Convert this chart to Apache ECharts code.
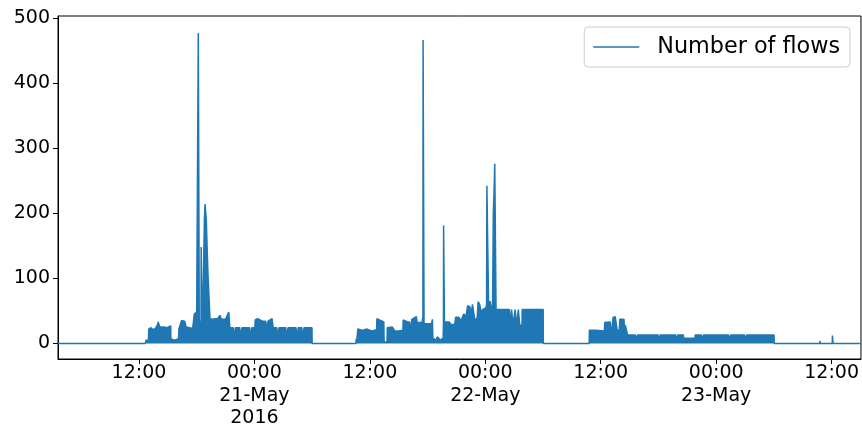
<!DOCTYPE html>
<html>
<head>
<meta charset="utf-8">
<script src="https://cdn.jsdelivr.net/npm/echarts@6/dist/echarts.min.js"></script>
<style>html,body{margin:0;padding:0;background:#fff}#c{width:862px;height:430px}</style>
</head>
<body>
<div id="c"></div>
<script>
var seriesName = 'Number of flows';
// [time, number of flows], per period
var quietStart = [
["2016-05-20 03:35",0],["2016-05-20 03:44",0],["2016-05-20 03:45",2],["2016-05-20 03:46",0],
["2016-05-20 04:26",0],["2016-05-20 04:27",2],["2016-05-20 04:28",0],
["2016-05-20 05:08",0],["2016-05-20 05:09",2],["2016-05-20 05:10",0],
["2016-05-20 05:59",0],["2016-05-20 06:00",2],["2016-05-20 06:01",0],["2016-05-20 12:40",0]
];
var activityDay1 = [
["2016-05-20 12:44",5],["2016-05-20 12:59",5],["2016-05-20 13:01",22],["2016-05-20 13:15",24],["2016-05-20 13:30",21],
["2016-05-20 13:45",24],["2016-05-20 13:55",28],["2016-05-20 14:00",33],["2016-05-20 14:06",33],["2016-05-20 14:10",25],
["2016-05-20 14:40",25],["2016-05-20 14:55",24],["2016-05-20 15:05",27],["2016-05-20 15:18",27],["2016-05-20 15:19",7],
["2016-05-20 15:40",5],["2016-05-20 16:07",7],["2016-05-20 16:09",22],["2016-05-20 16:25",35],["2016-05-20 16:45",34],
["2016-05-20 16:55",25],["2016-05-20 17:15",24],["2016-05-20 17:35",23],["2016-05-20 17:45",45],["2016-05-20 18:00",48],
["2016-05-20 18:08",45],["2016-05-20 18:10",477],["2016-05-20 18:14",477],["2016-05-20 18:16",35],["2016-05-20 18:27",30],
["2016-05-20 18:28",148],["2016-05-20 18:34",148],["2016-05-20 18:36",8],["2016-05-20 18:46",8],["2016-05-20 18:48",190],
["2016-05-20 18:52",214],["2016-05-20 18:58",214],["2016-05-20 19:00",190],["2016-05-20 19:03",163],["2016-05-20 19:08",160],
["2016-05-20 19:10",108],["2016-05-20 19:20",108],["2016-05-20 19:23",38],["2016-05-20 19:40",37],["2016-05-20 19:55",38],
["2016-05-20 20:10",38],["2016-05-20 20:25",43],["2016-05-20 20:35",37],["2016-05-20 21:00",37],["2016-05-20 21:20",48],
["2016-05-20 21:25",48],["2016-05-20 21:27",24],
["2016-05-20 21:48",24],["2016-05-20 21:49",8],["2016-05-20 22:01",8],["2016-05-20 22:02",24],
["2016-05-20 22:28",24],["2016-05-20 22:29",8],["2016-05-20 22:41",8],["2016-05-20 22:42",24],
["2016-05-20 23:30",24],["2016-05-20 23:31",8],["2016-05-20 23:43",8],["2016-05-20 23:44",24],
["2016-05-21 00:03",24],["2016-05-21 00:05",36],["2016-05-21 00:20",38],["2016-05-21 00:35",36],["2016-05-21 00:50",34],
["2016-05-21 01:10",34],["2016-05-21 01:15",24],["2016-05-21 01:25",34],["2016-05-21 01:50",38],["2016-05-21 01:57",24],
["2016-05-21 02:20",24],["2016-05-21 02:21",8],["2016-05-21 02:33",8],["2016-05-21 02:34",24],
["2016-05-21 03:16",24],["2016-05-21 03:17",8],["2016-05-21 03:29",8],["2016-05-21 03:30",24],
["2016-05-21 04:20",24],["2016-05-21 04:21",8],["2016-05-21 04:33",8],["2016-05-21 04:34",24],
["2016-05-21 04:56",24],["2016-05-21 04:57",8],["2016-05-21 05:09",8],["2016-05-21 05:10",24],
["2016-05-21 05:59",24],["2016-05-21 06:00",0]
];
var activityDay2 = [
["2016-05-21 10:33",0],["2016-05-21 10:35",7],["2016-05-21 10:37",0],["2016-05-21 10:44",0],["2016-05-21 10:45",22],
["2016-05-21 11:15",20],["2016-05-21 11:40",22],["2016-05-21 12:10",19],["2016-05-21 12:42",21],["2016-05-21 12:44",38],
["2016-05-21 13:00",36],["2016-05-21 13:10",33],["2016-05-21 13:27",33],["2016-05-21 13:29",2],["2016-05-21 13:47",2],
["2016-05-21 13:49",24],["2016-05-21 14:20",25],["2016-05-21 14:35",19],["2016-05-21 15:00",19],["2016-05-21 15:26",20],
["2016-05-21 15:28",36],["2016-05-21 15:55",33],["2016-05-21 16:08",33],["2016-05-21 16:10",12],["2016-05-21 16:20",12],
["2016-05-21 16:22",37],["2016-05-21 16:50",41],["2016-05-21 16:55",32],["2016-05-21 17:25",32],["2016-05-21 17:31",40],
["2016-05-21 17:32",466],["2016-05-21 17:36",466],["2016-05-21 17:38",30],["2016-05-21 18:00",30],["2016-05-21 18:25",30],
["2016-05-21 18:30",37],["2016-05-21 18:33",8],["2016-05-21 18:55",5],["2016-05-21 19:00",10],["2016-05-21 19:20",5],
["2016-05-21 19:37",8],["2016-05-21 19:39",33],["2016-05-21 19:40",181],["2016-05-21 19:43",181],["2016-05-21 19:45",33],
["2016-05-21 20:15",33],["2016-05-21 20:30",28],["2016-05-21 20:50",30],["2016-05-21 20:55",40],["2016-05-21 21:15",40],
["2016-05-21 21:30",35],["2016-05-21 21:45",45],["2016-05-21 22:00",42],["2016-05-21 22:10",58],["2016-05-21 22:25",56],
["2016-05-21 22:30",40],["2016-05-21 22:40",60],["2016-05-21 22:50",58],["2016-05-21 22:55",35],["2016-05-21 23:10",40],
["2016-05-21 23:15",64],["2016-05-21 23:25",60],["2016-05-21 23:35",48],["2016-05-21 23:45",52],["2016-05-22 00:05",55],
["2016-05-22 00:08",60],["2016-05-22 00:10",242],["2016-05-22 00:18",240],["2016-05-22 00:21",50],["2016-05-22 00:30",65],
["2016-05-22 00:35",58],["2016-05-22 00:45",45],["2016-05-22 00:48",45],["2016-05-22 00:50",200],["2016-05-22 00:54",228],
["2016-05-22 00:57",230],["2016-05-22 00:59",276],["2016-05-22 01:05",276],["2016-05-22 01:07",52],
["2016-05-22 02:30",52],["2016-05-22 02:31",28],["2016-05-22 02:43",28],["2016-05-22 02:44",52],
["2016-05-22 02:52",52],["2016-05-22 02:53",28],["2016-05-22 03:05",28],["2016-05-22 03:06",52],
["2016-05-22 03:14",52],["2016-05-22 03:15",28],["2016-05-22 03:25",28],["2016-05-22 03:26",52],
["2016-05-22 03:34",52],["2016-05-22 03:35",28],["2016-05-22 03:49",28],["2016-05-22 03:50",52],
["2016-05-22 06:01",52],["2016-05-22 06:02",0]
];
var activityDay3 = [
["2016-05-22 10:48",0],["2016-05-22 10:49",20],["2016-05-22 11:30",20],["2016-05-22 12:23",19],["2016-05-22 12:25",32],
["2016-05-22 13:00",33],["2016-05-22 13:06",32],["2016-05-22 13:09",10],["2016-05-22 13:14",10],["2016-05-22 13:17",40],
["2016-05-22 13:30",41],["2016-05-22 13:40",38],["2016-05-22 13:43",20],["2016-05-22 13:56",20],["2016-05-22 13:59",37],
["2016-05-22 14:25",37],["2016-05-22 14:29",15],["2016-05-22 14:33",28],["2016-05-22 14:45",28],["2016-05-22 14:47",13],
["2016-05-22 15:36",13],["2016-05-22 15:37",6],["2016-05-22 15:49",6],["2016-05-22 15:50",13],
["2016-05-22 17:58",13],["2016-05-22 17:59",6],["2016-05-22 18:11",6],["2016-05-22 18:12",13],
["2016-05-22 19:48",13],["2016-05-22 19:49",6],["2016-05-22 20:01",6],["2016-05-22 20:02",13],
["2016-05-22 20:36",13],["2016-05-22 20:37",8],["2016-05-22 21:48",8],["2016-05-22 21:49",13],
["2016-05-22 22:28",13],["2016-05-22 22:29",6],["2016-05-22 22:41",6],["2016-05-22 22:42",13],
["2016-05-23 01:18",13],["2016-05-23 01:19",6],["2016-05-23 01:31",6],["2016-05-23 01:32",13],
["2016-05-23 02:58",13],["2016-05-23 02:59",6],["2016-05-23 03:11",6],["2016-05-23 03:12",13],
["2016-05-23 06:01",13],["2016-05-23 06:02",0]
];
var quietEnd = [
["2016-05-23 10:47",0],["2016-05-23 10:48",4],["2016-05-23 10:49",0],
["2016-05-23 12:04",0],["2016-05-23 12:05",12],["2016-05-23 12:08",12],["2016-05-23 12:09",0],["2016-05-23 15:03",0]
];
var xMin = "2016-05-20 03:35";
var xMax = "2016-05-23 15:03";
var xTickTimes = ["2016-05-20 12:00","2016-05-21 00:00","2016-05-21 12:00","2016-05-22 00:00","2016-05-22 12:00","2016-05-23 00:00","2016-05-23 12:00"];
var xTickLabels = ["12:00","00:00\n21-May\n2016","12:00","00:00\n22-May","12:00","00:00\n23-May","12:00"];
var yMin = -24, yMax = 503;
var yTicks = [0,100,200,300,400,500];

// time strings -> milliseconds (UTC) for a numeric x scale
function ts(s){ var p = s.split(/[- :]/); return Date.UTC(+p[0], +p[1]-1, +p[2], +p[3], +p[4]); }
var data = [].concat(quietStart, activityDay1, activityDay2, activityDay3, quietEnd)
  .map(function(d){ return [ts(d[0]), d[1]]; });
var xTickVals = xTickTimes.map(ts);
var labelMap = {};
xTickVals.forEach(function(v,i){ labelMap[v] = xTickLabels[i]; });

var font = 'DejaVu Sans';
var chart = echarts.init(document.getElementById('c'), null, {renderer:'canvas'});
chart.setOption({
  animation: false,
  backgroundColor: '#fff',
  textStyle: {fontFamily: font},
  grid: {left: 58, right: 1, top: 16, bottom: 71, show: true, borderColor: '#000', borderWidth: 1, backgroundColor: 'transparent'},
  legend: {
    right: 12, top: 27,
    padding: [8, 10, 8, 9],
    icon: 'rect',
    itemWidth: 46, itemHeight: 1.5,
    itemStyle: {color: '#1f77b4'},
    backgroundColor: 'rgba(255,255,255,0.8)',
    borderColor: '#cccccc', borderWidth: 1, borderRadius: 4,
    textStyle: {fontFamily: font, fontSize: 22.3, lineHeight: 24, color: '#000', padding: [0,0,0,13]},
    data: [seriesName]
  },
  xAxis: {
    type: 'value', min: ts(xMin), max: ts(xMax), scale: true,
    axisLine: {show: true, onZero: false, lineStyle: {color: '#000', width: 1}},
    axisTick: {show: true, length: 5, lineStyle: {color: '#000'}, customValues: xTickVals},
    axisLabel: {
      customValues: xTickVals,
      color: '#000', fontFamily: font, fontSize: 19, lineHeight: 22.5, margin: 3,
      formatter: function(v){ return labelMap[v] || ''; }
    },
    splitLine: {show: false}
  },
  yAxis: {
    type: 'value', min: yMin, max: yMax,
    axisLine: {show: true, lineStyle: {color: '#000', width: 1}},
    axisTick: {show: true, length: 5, lineStyle: {color: '#000'}, customValues: yTicks},
    axisLabel: {customValues: yTicks, color: '#000', fontFamily: font, fontSize: 19, margin: 8},
    splitLine: {show: false}
  },
  series: [{
    name: seriesName, type: 'line', data: data,
    symbol: 'none', showSymbol: false,
    lineStyle: {color: '#1f77b4', width: 1.5},
    itemStyle: {color: '#1f77b4'},
    areaStyle: {color: '#1f77b4', opacity: 1, origin: 0}
  }]
});
</script>
</body>
</html>
